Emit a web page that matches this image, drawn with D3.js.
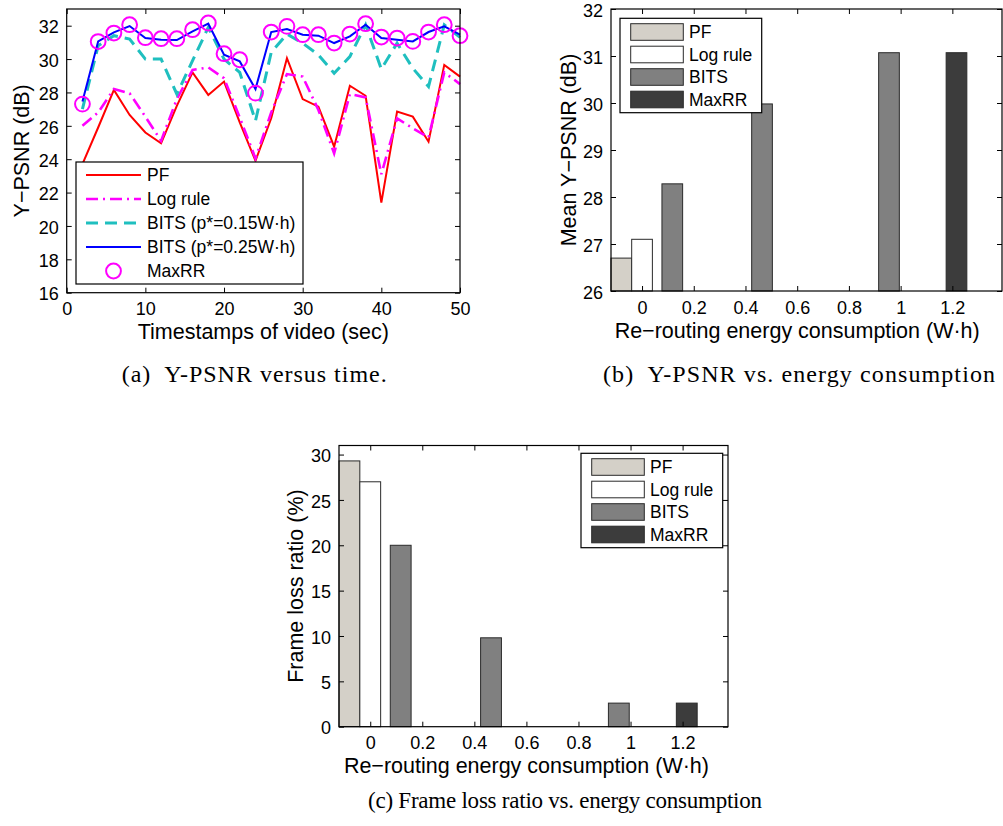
<!DOCTYPE html>
<html><head><meta charset="utf-8">
<script src="https://cdn.jsdelivr.net/npm/d3@7"></script>
<style>
body{margin:0;background:#fff;}
svg text{font-family:"Liberation Sans",Arial,Helvetica,sans-serif;fill:#000;}
svg text.cap{font-family:"Liberation Serif","Times New Roman",serif;}
</style></head><body>
<svg id="chart" width="1003" height="826"></svg>
<script>
// ---------- data: panel (a) ----------
const timestamps = [2,4,6,8,10,12,14,16,18,20,22,24,26,28,30,32,34,36,38,40,42,44,46,48,50];
const pfPSNR     = [23.7,25.9,28.15,26.65,25.6,24.95,27.2,29.2,27.85,28.65,26.2,23.9,26.45,30.05,27.6,27.15,24.75,28.4,27.8,21.4,26.85,26.55,25.05,29.65,28.95];
const logPSNR    = [26.0,26.8,28.2,27.95,26.55,25.1,27.6,29.35,29.5,28.85,26.5,24.05,26.8,29.1,28.95,26.95,24.35,27.9,27.7,23.1,26.45,25.85,25.3,29.2,28.5];
const bits015    = [27.0,30.8,31.4,31.2,30.0,30.0,27.9,29.9,31.9,30.0,29.2,26.3,30.4,31.5,30.95,30.25,29.15,30.15,32.05,29.4,30.95,29.45,28.35,32.05,31.3];
const bits025    = [27.45,31.06,31.6,31.98,31.26,31.16,31.14,31.66,32.12,30.26,29.86,28.2,31.62,31.8,31.46,31.4,30.96,31.36,32.06,31.26,31.16,31.06,31.62,31.96,31.46];
const maxRRPSNR  = [27.3,31.05,31.56,32.06,31.28,31.22,31.22,31.76,32.16,30.32,29.96,27.96,31.62,31.96,31.46,31.46,30.96,31.5,32.12,31.32,31.26,31.06,31.62,32.06,31.4];
const lineLegend = ["PF","Log rule","BITS (p*=0.15W\u00b7h)","BITS (p*=0.25W\u00b7h)","MaxRR"];
const aXTicks = [0,10,20,30,40,50];
const aYTicks = [16,18,20,22,24,26,28,30,32];

// ---------- data: panels (b) and (c) ----------
const barScheme  = ["PF","Log rule","BITS","BITS","BITS","MaxRR"];
const barEnergy  = [-0.08,0,0.117,0.464,0.955,1.216];
const meanPSNR   = [26.70,27.10,28.28,29.98,31.07,31.07];
const frameLoss  = [29.3,27.0,20.0,9.8,2.6,2.6];
const barLegend  = ["PF","Log rule","BITS","MaxRR"];
const energyTicks = [0,0.2,0.4,0.6,0.8,1,1.2];
const bYTicks = [26,27,28,29,30,31,32];
const cYTicks = [0,5,10,15,20,25,30];

const svg = d3.select("#chart");
const TICK_FS = 18, LAB_FS = 21.5, LEG_FS = 17.5;

function frame(g, x, y, xTicks, yTicks, xFmt, box){
  const [L,R,T,B] = box;
  const bottom = g.append("g").attr("transform",`translate(0,${B})`)
    .call(d3.axisBottom(x).tickValues(xTicks).tickSize(-5).tickPadding(10).tickFormat(xFmt));
  const top = g.append("g").attr("transform",`translate(0,${T})`)
    .call(d3.axisTop(x).tickValues(xTicks).tickSize(-5).tickFormat(""));
  const left = g.append("g").attr("transform",`translate(${L},0)`)
    .call(d3.axisLeft(y).tickValues(yTicks).tickSize(-5).tickPadding(8).tickFormat(d3.format("d")));
  const right = g.append("g").attr("transform",`translate(${R},0)`)
    .call(d3.axisRight(y).tickValues(yTicks).tickSize(-5).tickFormat(""));
  [bottom,top,left,right].forEach(a=>{
    a.select(".domain").remove();
    a.selectAll("line").attr("stroke","#000").attr("stroke-width",1);
    a.selectAll("text").attr("font-size",TICK_FS).attr("font-family","Liberation Sans, Arial, sans-serif");
  });
  left.selectAll("text").attr("dy","0.4em");
  g.append("rect").attr("x",L).attr("y",T).attr("width",R-L).attr("height",B-T)
    .attr("fill","none").attr("stroke","#000").attr("stroke-width",1.2);
}

function caption(x0, x1, y, fs, txt){
  svg.append("text").attr("class","cap").attr("x",x0).attr("y",y)
    .attr("font-size",fs).attr("textLength",x1-x0).attr("lengthAdjust","spacing").text(txt);
}

// ================= Panel (a) =================
(function(){
  const L=66.7,R=460,T=9,B=292.7;
  const x = d3.scaleLinear().domain([0,50]).range([L,R]);
  const y = d3.scaleLinear().domain([16,33]).range([B,T]);
  const g = svg.append("g");
  const line = d3.line().x((d,i)=>x(timestamps[i])).y(d=>y(d));
  const styles = [
    {data:pfPSNR, color:"#ff0000", w:2, dash:null},
    {data:logPSNR, color:"#ff00ff", w:2.6, dash:"12,5,2,5"},
    {data:bits015, color:"#1fbfbf", w:3, dash:"12,7"},
    {data:bits025, color:"#0000ff", w:2, dash:null}
  ];
  const plot = g.append("g");
  styles.forEach(s=>{
    plot.append("path").attr("d",line(s.data)).attr("fill","none")
      .attr("stroke",s.color).attr("stroke-width",s.w)
      .attr("stroke-dasharray",s.dash).attr("stroke-linejoin","miter");
  });
  plot.selectAll("circle.mr").data(maxRRPSNR).enter().append("circle")
    .attr("cx",(d,i)=>x(timestamps[i])).attr("cy",d=>y(d)).attr("r",7.4)
    .attr("fill","none").attr("stroke","#ff00ff").attr("stroke-width",2);
  frame(g,x,y,aXTicks,aYTicks,d3.format("d"),[L,R,T,B]);
  // legend
  const lg = g.append("g");
  lg.append("rect").attr("x",76).attr("y",162).attr("width",227).attr("height",122)
    .attr("fill","#fff").attr("stroke","#000").attr("stroke-width",1.2);
  lineLegend.forEach((name,i)=>{
    const cy = 175 + i*24;
    if(i<4){
      const s = styles[i];
      lg.append("line").attr("x1",86).attr("x2",141).attr("y1",cy).attr("y2",cy)
        .attr("stroke",s.color).attr("stroke-width",s.w).attr("stroke-dasharray",s.dash);
    } else {
      lg.append("circle").attr("cx",113.5).attr("cy",cy).attr("r",7.4)
        .attr("fill","none").attr("stroke","#ff00ff").attr("stroke-width",2);
    }
    lg.append("text").attr("x",147).attr("y",cy).attr("dy","0.35em")
      .attr("font-size",LEG_FS).text(name);
  });
  g.append("text").attr("transform",`translate(29,${(T+B)/2}) rotate(-90)`)
    .attr("text-anchor","middle").attr("font-size",LAB_FS).text("Y\u2212PSNR (dB)");
  g.append("text").attr("x",(L+R)/2).attr("y",339).attr("text-anchor","middle")
    .attr("font-size",LAB_FS).text("Timestamps of video (sec)");
})();
caption(121.7, 386.7, 382, 24, "(a)\u2002Y-PSNR versus time.");

const fillOf = {"PF":"#d4d0c8","Log rule":"#ffffff","BITS":"#808080","MaxRR":"#3c3c3c"};

function barPanel(box, yDom, values, yTicks, yLabel, yLabX, xLabY, legBox){
  const [L,R,T,B,ppu] = box;
  const g = svg.append("g");
  const x = d3.scaleLinear().domain([-0.12, -0.12 + (R-L)/ppu]).range([L,R]);
  const y = d3.scaleLinear().domain(yDom).range([B,T]);
  g.selectAll("rect.bar").data(values).enter().append("rect")
    .attr("x",(d,i)=>x(barEnergy[i]-0.04))
    .attr("width",(d,i)=>x(barEnergy[i]+0.04)-x(barEnergy[i]-0.04))
    .attr("y",d=>y(d)).attr("height",d=>y(yDom[0])-y(d))
    .attr("fill",(d,i)=>fillOf[barScheme[i]]).attr("stroke","#2a2a2a").attr("stroke-width",1);
  frame(g,x,y,energyTicks,yTicks,d=>d3.format("")(d),[L,R,T,B]);
  const [lx,ly,lw,lh,rowY] = legBox;
  const lg = g.append("g");
  lg.append("rect").attr("x",lx).attr("y",ly).attr("width",lw).attr("height",lh)
    .attr("fill","#fff").attr("stroke","#000").attr("stroke-width",1.2);
  barLegend.forEach((name,i)=>{
    const cy = rowY + i*22.5;
    lg.append("rect").attr("x",lx+10.7).attr("y",cy-8.3).attr("width",52.6).attr("height",16.6)
      .attr("fill",fillOf[name]).attr("stroke","#2a2a2a").attr("stroke-width",1);
    lg.append("text").attr("x",lx+69).attr("y",cy).attr("dy","0.35em")
      .attr("font-size",LEG_FS).text(name);
  });
  g.append("text").attr("transform",`translate(${yLabX},${(T+B)/2}) rotate(-90)`)
    .attr("text-anchor","middle").attr("font-size",LAB_FS).text(yLabel);
  g.append("text").attr("x",x(0.6)).attr("y",xLabY).attr("text-anchor","middle")
    .attr("font-size",LAB_FS).text("Re\u2212routing energy consumption (W\u00b7h)");
}

// px-per-unit passed as 5th element of box
barPanel([611,1002,9,291,258.6],[26,32],meanPSNR,bYTicks,"Mean Y\u2212PSNR (dB)",576,338,
  [620,18.3,141.7,94.4,32]);
caption(603, 995, 382, 24, "(b)\u2002Y-PSNR vs. energy consumption");
barPanel([339,728,445.5,726.7,260.3],[0,31],frameLoss,cYTicks,"Frame loss ratio (%)",303,773,
  [581,453.3,141.7,94.4,467]);
caption(368, 762, 808, 23, "(c) Frame loss ratio vs. energy consumption");
</script>
</body></html>
